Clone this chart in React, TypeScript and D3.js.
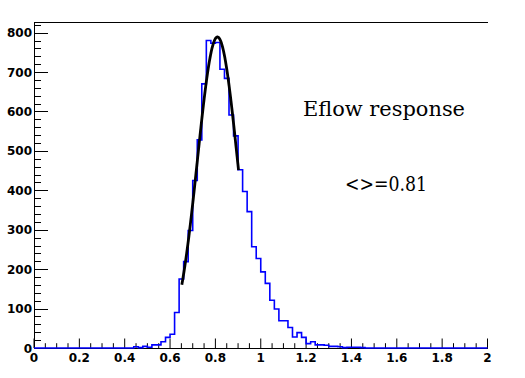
import React from "react";
import * as d3 from "d3";

// Histogram: 100 bins of width 0.02 over [0, 2]; only non-zero region listed
const binWidth = 0.02;
const xMin = 0;
const xMax = 2;
const nonZeroStart = 0.44;
const binCounts = [
  3, 1, 4, 2, 8, 8, 16, 27, 35, 90,
  175, 219, 298, 425, 528, 670, 780, 773, 775, 707,
  684, 591, 538, 452, 397, 346, 257, 227, 193, 164,
  121, 99, 69, 69, 52, 28, 39, 27, 11, 16,
  8, 8, 7, 4, 4, 3, 1, 2, 2, 2,
  1,
];

// Gaussian fit parameters (as printed by the fit)
const fitConstant = 789;
const fitMean = 0.809;
const fitSigma = 0.088;
const fitRange = [0.652, 0.902];

const yMax = 827;
const xTickLabels = [0, 0.2, 0.4, 0.6, 0.8, 1, 1.2, 1.4, 1.6, 1.8, 2];
const yTickLabels = [0, 100, 200, 300, 400, 500, 600, 700, 800];

const titleText = "Eflow response";
const meanText = "<>=0.81";

export default function App() {
  const W = 525;
  const H = 378;
  const L = 34;
  const R = 487.5;
  const T = 22;
  const B = 348;

  const x = d3.scaleLinear().domain([xMin, xMax]).range([L, R]);
  const y = d3.scaleLinear().domain([0, yMax]).range([B, T]);

  const nBins = Math.round((xMax - xMin) / binWidth);
  const startIdx = Math.round((nonZeroStart - xMin) / binWidth);
  const counts: number[] = [];
  for (let i = 0; i < nBins; i++) {
    const j = i - startIdx;
    counts.push(j >= 0 && j < binCounts.length ? binCounts[j] : 0);
  }

  let histPath = `M${x(xMin)},${y(counts[0])}`;
  counts.forEach((c, i) => {
    const lo = xMin + i * binWidth;
    const hi = lo + binWidth;
    histPath += `V${y(c)}H${x(hi)}`;
    void lo;
  });

  const fitPts: [number, number][] = d3
    .range(0, 201)
    .map((k) => fitRange[0] + ((fitRange[1] - fitRange[0]) * k) / 200)
    .map((v) => [v, fitConstant * Math.exp(-0.5 * ((v - fitMean) / fitSigma) ** 2)]);
  const fitLine = d3
    .line<[number, number]>()
    .x((d) => x(d[0]))
    .y((d) => y(d[1]))
    .curve(d3.curveLinear)(fitPts);

  const xMinor = d3.range(0, 41).map((i) => i * 0.05);
  const yMinor = d3.range(0, 42).map((i) => i * 20).filter((v) => v <= yMax);

  const labelFont = "DejaVu Sans";

  return (
    <svg
      width={W}
      height={H}
      style={{ position: "absolute", left: 0, top: 0, background: "#fff" }}
    >
      <rect x={0} y={0} width={W} height={H} fill="#fff" />
      {/* frame top */}
      <line x1={L} x2={R + 0.5} y1={T + 0.5} y2={T + 0.5} stroke="#000" strokeWidth={1} />
      {/* axes */}
      <line x1={L + 0.5} x2={L + 0.5} y1={T} y2={B} stroke="#000" strokeWidth={1} />
      <line x1={L} x2={R + 0.5} y1={B + 0.5} y2={B + 0.5} stroke="#000" strokeWidth={1} />
      {/* x ticks */}
      {xMinor.map((v, i) => {
        const major = i % 4 === 0;
        const len = major ? 9.5 : 4.8;
        return (
          <line
            key={"xt" + i}
            x1={x(v)}
            x2={x(v)}
            y1={B}
            y2={B - len}
            stroke="#000"
            strokeWidth={1}
          />
        );
      })}
      {/* y ticks */}
      {yMinor.map((v, i) => {
        const major = v % 100 === 0;
        const len = major ? 14 : 7;
        return (
          <line
            key={"yt" + i}
            x1={L}
            x2={L + len}
            y1={Math.round(y(v)) + 0.5}
            y2={Math.round(y(v)) + 0.5}
            stroke="#000"
            strokeWidth={1}
          />
        );
      })}
      {/* x labels */}
      {xTickLabels.map((v) => (
        <text
          key={"xl" + v}
          x={x(v)}
          y={362}
          textAnchor="middle"
          fontFamily={labelFont}
          fontWeight="bold"
          fontSize={12}
          fill="#000"
        >
          {String(v)}
        </text>
      ))}
      {/* y labels */}
      {yTickLabels.map((v) => (
        <text
          key={"yl" + v}
          x={32}
          y={y(v) + 4.5}
          textAnchor="end"
          fontFamily={labelFont}
          fontWeight="bold"
          fontSize={12}
          fill="#000"
        >
          {String(v)}
        </text>
      ))}
      {/* histogram */}
      <path d={histPath} fill="none" stroke="#0000ff" strokeWidth={1.6} />
      {/* fit */}
      <path d={fitLine || ""} fill="none" stroke="#000" strokeWidth={2.8} />
      {/* texts */}
      <text
        x={303}
        y={115.7}
        fontFamily="DejaVu Serif"
        fontSize={20}
        textLength={162}
        lengthAdjust="spacingAndGlyphs"
        fill="#000"
      >
        {titleText}
      </text>
      <text
        x={345}
        y={191}
        fontFamily="DejaVu Serif"
        fontSize={20}
        textLength={82}
        lengthAdjust="spacingAndGlyphs"
        fill="#000"
      >
        {meanText}
      </text>
    </svg>
  );
}
